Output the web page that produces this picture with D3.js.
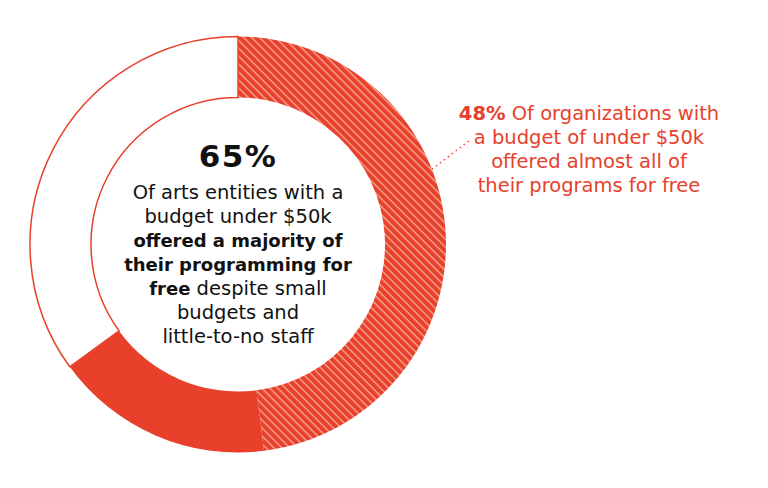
<!DOCTYPE html>
<html>
<head>
<meta charset="utf-8">
<script src="https://cdn.jsdelivr.net/npm/d3@7"></script>
<style>
  html, body { margin: 0; padding: 0; background: #ffffff; }
  svg { display: block; }
</style>
</head>
<body>
<div id="chart"></div>
<script>
// ---- Data ----
const categories = ["Almost all programs free", "Majority of programs free", "Other"];
const values = [48, 17, 35];
const headlineValue = "65%";
const centerLines = [
  [{t: "Of arts entities with a", b: false}],
  [{t: "budget under $50k", b: false}],
  [{t: "offered a majority of", b: true}],
  [{t: "their programming for", b: true}],
  [{t: "free", b: true}, {t: " despite small", b: false}],
  [{t: "budgets and", b: false}],
  [{t: "little-to-no staff", b: false}]
];
const annotationLines = [
  [{t: "48%", b: true}, {t: " Of organizations with", b: false}],
  [{t: "a budget of under $50k", b: false}],
  [{t: "offered almost all of", b: false}],
  [{t: "their programs for free", b: false}]
];

// ---- Layout ----
const W = 768, H = 488;
const cx = 238, cy = 244.5;
const outerR = 208, innerR = 147;
const red = "#E8402B";
const stripe = "#F5A593";
const font = "'DejaVu Sans', sans-serif";

const svg = d3.select("#chart").append("svg")
  .attr("width", W).attr("height", H);

const defs = svg.append("defs");
const sp = 5.6;
const pat = defs.append("pattern")
  .attr("id", "hatch")
  .attr("patternUnits", "userSpaceOnUse")
  .attr("width", sp).attr("height", sp)
  .attr("patternTransform", "rotate(45)");
pat.append("rect").attr("width", sp).attr("height", sp).attr("fill", red);
pat.append("rect").attr("x", 0).attr("y", 0).attr("width", sp).attr("height", 1.4).attr("fill", stripe);

const pie = d3.pie().sort(null).value(d => d)(values);
const arc = d3.arc().innerRadius(innerR).outerRadius(outerR);

const g = svg.append("g").attr("transform", `translate(${cx},${cy})`);
const fills = ["url(#hatch)", red, "#ffffff"];
g.selectAll("path.slice")
  .data(pie)
  .join("path")
  .attr("class", "slice")
  .attr("d", arc)
  .attr("fill", (d, i) => fills[i])
  .attr("stroke", (d, i) => i === 2 ? red : "none")
  .attr("stroke-width", 1.5);

// leader line from hatched slice
const leadAngle = 68.8 * Math.PI / 180;
const p1 = [cx + outerR * Math.sin(leadAngle), cy - outerR * Math.cos(leadAngle)];
svg.append("line")
  .attr("x1", p1[0]).attr("y1", p1[1])
  .attr("x2", 470).attr("y2", 140)
  .attr("stroke", red)
  .attr("stroke-width", 1.4)
  .attr("stroke-dasharray", "1.5,3.5");

// ---- Center text ----
svg.append("text")
  .attr("x", cx).attr("y", 167)
  .attr("text-anchor", "middle")
  .attr("font-family", font)
  .attr("font-weight", 700)
  .attr("font-size", 31)
  .attr("letter-spacing", 1.5)
  .attr("fill", "#111")
  .text(headlineValue);

const ct = svg.append("g");
centerLines.forEach((line, i) => {
  const t = ct.append("text")
    .attr("x", cx).attr("y", 199 + i * 24)
    .attr("text-anchor", "middle")
    .attr("font-family", font)
    .attr("font-size", 19.5)
    .attr("fill", "#111");
  line.forEach(s => t.append("tspan")
    .attr("font-weight", s.b ? 700 : 400)
    .attr("font-size", s.b ? 18 : 19.5)
    .text(s.t));
});

// ---- Annotation ----
annotationLines.forEach((line, i) => {
  const t = svg.append("text")
    .attr("x", 589).attr("y", 120 + i * 24)
    .attr("text-anchor", "middle")
    .attr("font-family", font)
    .attr("font-size", 19.5)
    .attr("fill", red);
  line.forEach(s => t.append("tspan").attr("font-weight", s.b ? 700 : 400).text(s.t));
});
</script>
</body>
</html>
